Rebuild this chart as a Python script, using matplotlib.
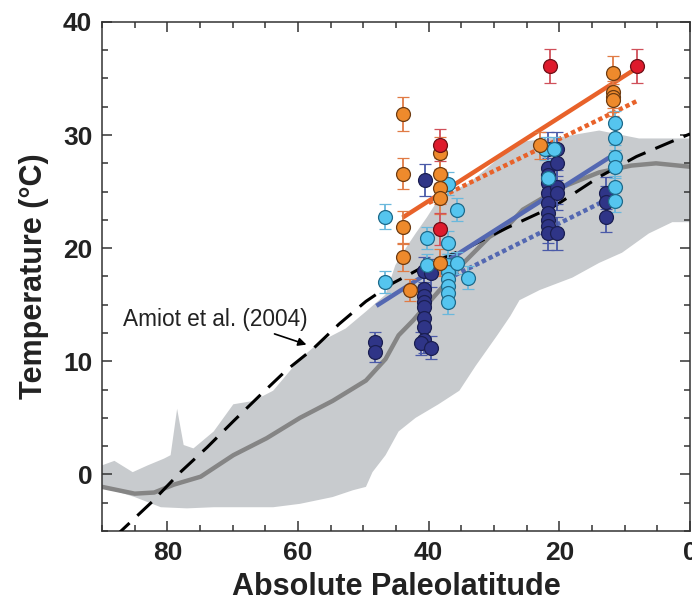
import numpy as np
import matplotlib
matplotlib.use("Agg")
import matplotlib.pyplot as plt
from matplotlib.ticker import MultipleLocator

plt.rcParams['font.family'] = ['Liberation Sans', 'DejaVu Sans']

# grey model envelope (upper and lower edges) and model median
up_lat = [90, 88.1, 85.3, 83, 80.5, 79.5, 78.5, 77.5, 76, 72.9, 69.9, 66.8, 63.8, 59.7, 56.7, 52.7, 49.6,
          46.6, 45.1, 43.5, 42, 40.3, 38.3, 36.8, 33.7, 30.2, 28, 26, 20, 13.9, 7.8, 0]
up_T = [0.8, 1.2, 0.2, 0.8, 1.4, 1.7, 5.8, 2.6, 2.3, 3.8, 6.2, 6.5, 7.4, 10.2, 11.7, 12.9, 14.4,
        15.9, 18.5, 20.0, 21.3, 22.7, 24.5, 24.9, 25.8, 27.5, 28.7, 29.4, 29.8, 30.4, 29.7, 29.7]
lo_lat = [90, 85, 81, 77, 72.9, 68.9, 63.8, 59.7, 54.7, 51.6, 49.6, 48.6, 46.6, 44.6, 42, 38.5, 35.3, 32.8,
          29.5, 27.5, 26.1, 23, 18, 13.9, 10.4, 6.3, 2.7, 0]
lo_T = [-1.1, -2.0, -2.9, -3.0, -2.9, -2.9, -2.9, -2.6, -2.0, -1.4, -1.1, 0.2, 1.7, 3.8, 5.0, 6.2, 7.4, 9.6,
        12.3, 14.0, 15.4, 16.3, 17.4, 18.7, 19.6, 21.3, 22.3, 22.3]
med_lat = [90, 85, 82, 79, 74.9, 69.9, 64.8, 59.7, 54.7, 49.6, 46.6, 44.6, 42.4, 38, 35, 30.7,
           28, 25.6, 20, 13.9, 9, 5.2, 0]
med_T = [-1.1, -1.7, -1.6, -0.9, -0.2, 1.7, 3.2, 5.0, 6.5, 8.3, 10.2, 12.3, 13.6, 16.5, 18.5, 21.0,
         21.9, 23.4, 25.3, 26.7, 27.3, 27.5, 27.2]

# Amiot et al. (2004) gradient
am_lat = [88, 82.3, 78, 73.9, 69.9, 65.8, 61.8, 57.7, 53.7, 49.6, 45.5, 40, 34.2, 28, 20.5, 13.9, 8.2, 2.1, 0]
am_T = [-5.5, -2.4, 0.2, 2.4, 4.7, 7.0, 9.2, 11.1, 13.3, 15.3, 16.9, 18.6, 20.0, 21.8, 23.8, 26.3, 28.1, 29.6, 30.1]

# regression lines (end points)
or_fit_lat = [44, 8.2]
or_fit_T = [22.7, 35.9]
or_dot_lat = [40, 7.8]
or_dot_T = [24.0, 33.1]
bl_fit_lat = [48, 12.4]
bl_fit_T = [14.9, 28.0]
bl_dot_lat = [36, 12]
bl_dot_T = [17.6, 24.5]

# proxy data
orange_lat = [44, 44, 44, 44, 42.9, 38.2, 38.2, 38.2, 38.2, 38.3, 23, 11.8, 11.8, 11.8, 11.8]
orange_T = [31.9, 26.6, 21.9, 19.2, 16.3, 28.4, 26.6, 25.3, 24.4, 18.7, 29.1, 35.5, 33.8, 33.4, 33.1]
orange_err = [1.5, 1.4, 1.4, 1.2, 1.0, 1.4, 1.4, 1.4, 1.4, 1.2, 1.2, 1.5, 1.4, 1.4, 1.4]

red_lat = [21.5, 8.1, 38.2, 38.2]
red_T = [36.1, 36.1, 29.1, 21.7]
red_err = [1.5, 1.5, 1.4, 1.4]

dblue_lat = [48.2, 48.2, 40.5, 40.7, 40.7, 40.7, 40.7, 40.7, 40.7, 40.7, 40.7, 41.2, 39.6, 39.6,
             21.8, 21.8, 21.8, 21.8, 21.8, 21.8, 21.8, 21.8, 21.8, 21.8,
             20.3, 20.3, 20.3, 20.3, 20.3, 12.8, 12.8, 12.8]
dblue_T = [11.7, 10.8, 26.0, 18.0, 16.4, 15.8, 15.2, 14.8, 13.8, 13.0, 11.9, 11.6, 17.8, 11.2,
           28.8, 27.1, 26.5, 25.8, 24.9, 24.0, 23.1, 22.5, 22.0, 21.3,
           28.8, 27.5, 25.4, 24.9, 21.3, 24.9, 24.1, 22.8]
dblue_err = [0.9, 0.9, 1.4, 1.2, 1.2, 1.2, 1.2, 1.2, 1.2, 1.2, 1.2, 1.0, 1.2, 1.0,
             1.5, 1.5, 1.5, 1.5, 1.5, 1.5, 1.5, 1.5, 1.5, 1.5,
             1.5, 1.5, 1.5, 1.5, 1.5, 1.4, 1.4, 1.4]

lblue_lat = [46.7, 46.7, 40.3, 40.3, 37, 37, 37, 37, 37, 37, 37, 37, 35.7, 35.7, 34,
             22.2, 20.8, 21.8, 11.5, 11.5, 11.5, 11.5, 11.5, 11.5]
lblue_T = [22.8, 17.0, 20.9, 18.5, 25.7, 20.5, 18.5, 17.9, 17.3, 16.7, 16.0, 15.2, 23.4, 18.7, 17.4,
           28.8, 28.8, 26.2, 31.1, 29.7, 28.1, 27.2, 25.4, 24.2]
lblue_err = [1.1, 1.0, 1.0, 1.0, 1.0, 1.0, 1.0, 1.0, 1.0, 1.0, 1.0, 1.0, 1.0, 1.0, 1.0,
             1.0, 1.0, 1.0, 1.0, 1.0, 1.0, 1.0, 1.0, 1.0]

fig = plt.figure(figsize=(6.92, 6.01), dpi=100)
ax = fig.add_axes([0.1474, 0.1165, 0.8497, 0.847])

ax.fill(up_lat + lo_lat[::-1], up_T + lo_T[::-1], color='#c8cbce', lw=0, zorder=1)
ax.plot(med_lat, med_T, color='#858585', lw=3.2, zorder=2, solid_capstyle='round')
ax.plot(am_lat, am_T, color='black', lw=2.2, dashes=(6.5, 3.5), zorder=3)

ax.plot(or_fit_lat, or_fit_T, color='#e8622a', lw=3.2, zorder=4, solid_capstyle='butt')
ax.plot(or_dot_lat, or_dot_T, color='#e8622a', lw=3.2, dashes=(1, 0.7), zorder=4)
ax.plot(bl_fit_lat, bl_fit_T, color='#5468b2', lw=3.2, zorder=4, solid_capstyle='butt')
ax.plot(bl_dot_lat, bl_dot_T, color='#5468b2', lw=3.2, dashes=(1, 0.7), zorder=4)

def pts(lat, T, err, face, edge, ecol):
    ax.errorbar(lat, T, yerr=err, fmt='o', ms=10, mfc=face, mec=edge, mew=0.9,
                ecolor=ecol, elinewidth=1.3, capsize=4, capthick=1.3, zorder=5)

pts(dblue_lat, dblue_T, dblue_err, '#2f3587', '#1b1f52', '#4a5aa8')
pts(lblue_lat, lblue_T, lblue_err, '#55c5ef', '#1f6a8a', '#6ab8dc')
pts(orange_lat, orange_T, orange_err, '#ee8a2c', '#6e3c12', '#e07b45')
pts(red_lat, red_T, red_err, '#de1a2c', '#6e1018', '#d0505a')

ax.text(72.6, 13.7, 'Amiot et al. (2004)', fontsize=16.3, ha='center', va='center', color='#222222', zorder=6)
ax.annotate('', xy=(58.3, 11.4), xytext=(64.0, 12.5),
            arrowprops=dict(arrowstyle='-|>', color='black', lw=1.2, mutation_scale=12), zorder=6)

ax.set_xlim(90, 0)
ax.set_ylim(-5, 40)
ax.xaxis.set_major_locator(MultipleLocator(20))
ax.xaxis.set_minor_locator(MultipleLocator(5))
ax.yaxis.set_major_locator(MultipleLocator(10))
ax.yaxis.set_minor_locator(MultipleLocator(2.5))
ax.tick_params(which='both', direction='in', top=True, right=True, width=1.1, color='#333333')
ax.tick_params(which='major', length=7.5, labelsize=19, pad=7)
ax.tick_params(which='minor', length=4)
for lab in ax.get_xticklabels() + ax.get_yticklabels():
    lab.set_fontweight('bold')
    lab.set_color('#222222')
for s in ax.spines.values():
    s.set_linewidth(1.1)
    s.set_color('#333333')

ax.set_xlabel('Absolute Paleolatitude', fontsize=22, fontweight='bold', color='#222222', labelpad=5)
ax.set_ylabel('Temperature (\u00b0C)', fontsize=22, fontweight='bold', color='#222222', labelpad=10)

fig.savefig('out.png', dpi=100)
